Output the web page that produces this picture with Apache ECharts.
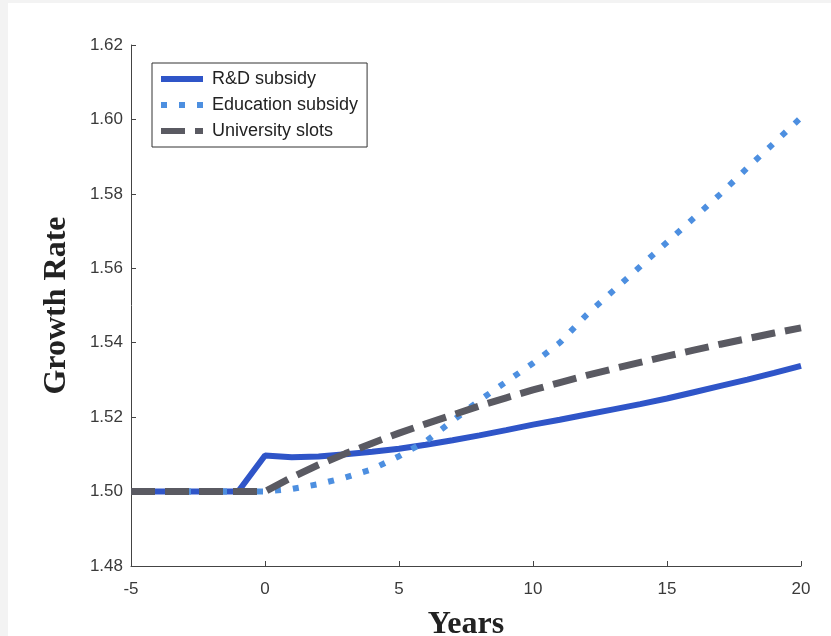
<!DOCTYPE html>
<html>
<head>
<meta charset="utf-8">
<script src="https://cdn.jsdelivr.net/npm/echarts@6/dist/echarts.min.js"></script>
<style>
  html, body { margin: 0; padding: 0; background: #f3f3f3; }
  #chart { position: absolute; left: 8px; top: 3px; width: 823px; height: 633px; background: #ffffff; }
</style>
</head>
<body>
<div id="chart"></div>
<script>
// Years relative to the policy change
const years = [-5, -4, -3, -2, -1, 0, 1, 2, 3, 4, 5, 6, 7, 8, 9, 10, 11, 12, 13, 14, 15, 16, 17, 18, 19, 20];

// Growth rate paths under each policy
const rdSubsidy = [1.500, 1.500, 1.500, 1.500, 1.500, 1.5097, 1.5092, 1.5094, 1.5100, 1.5107, 1.5115,
  1.5126, 1.5138, 1.5151, 1.5165, 1.5180, 1.5193, 1.5207, 1.5221, 1.5235, 1.5250,
  1.5267, 1.5284, 1.5301, 1.5319, 1.5338];
const educationSubsidy = [1.500, 1.500, 1.500, 1.500, 1.500, 1.500, 1.5007, 1.5020, 1.5038, 1.5060, 1.5095,
  1.5135, 1.5190, 1.5245, 1.5295, 1.5345, 1.5400, 1.5475, 1.5540, 1.5605, 1.5670,
  1.5735, 1.5800, 1.5870, 1.5937, 1.6005];
const universitySlots = [1.500, 1.500, 1.500, 1.500, 1.500, 1.500, 1.5038, 1.5072, 1.5102, 1.5130, 1.5157,
  1.5182, 1.5206, 1.5230, 1.5252, 1.5273, 1.5293, 1.5312, 1.5330, 1.5347, 1.5364,
  1.5380, 1.5396, 1.5411, 1.5426, 1.5440];

const seriesNames = ['R&D subsidy', 'Education subsidy', 'University slots'];

const pairs = vals => years.map((y, i) => [y, vals[i]]);

const chart = echarts.init(document.getElementById('chart'), null, { renderer: 'canvas' });

const labelFont = { fontFamily: 'Liberation Sans, Arial, sans-serif', fontSize: 17, color: '#3a3a3a' };
const titleFont = { fontFamily: 'Liberation Serif, Times New Roman, serif', fontSize: 32, fontWeight: 'bold', color: '#222' };

chart.setOption({
  animation: false,
  grid: { left: 123, top: 42, width: 670, height: 521, containLabel: false, outerBoundsMode: 'none' },
  xAxis: {
    type: 'value',
    min: -5, max: 20, interval: 5,
    name: 'Years', nameLocation: 'middle', nameGap: 43,
    nameTextStyle: titleFont,
    axisLine: { show: true, onZero: false, lineStyle: { color: '#444', width: 1 } },
    axisTick: { show: true, inside: true, length: 5, lineStyle: { color: '#444' } },
    axisLabel: Object.assign({ margin: 15 }, labelFont),
    splitLine: { show: false }
  },
  yAxis: {
    type: 'value',
    min: 1.48, max: 1.62, interval: 0.02,
    name: 'Growth Rate', nameLocation: 'middle', nameGap: 58, nameRotate: 90,
    nameTextStyle: titleFont,
    axisLine: { show: true, onZero: false, lineStyle: { color: '#444', width: 1 } },
    axisTick: { show: true, inside: true, length: 5, lineStyle: { color: '#444' } },
    axisLabel: Object.assign({ margin: 8, formatter: v => v.toFixed(2) }, labelFont),
    splitLine: { show: false }
  },
  legend: {
    orient: 'vertical',
    left: 144, top: 60,
    data: seriesNames,
    borderColor: '#333', borderWidth: 1,
    padding: [7, 9, 7, 6],
    itemWidth: 42, itemHeight: 17, itemGap: 8,
    itemStyle: { opacity: 0 },
    lineStyle: { width: 6 },
    textStyle: { fontFamily: 'Liberation Sans, Arial, sans-serif', fontSize: 18, color: '#222', padding: [0, 0, 0, 4] }
  },
  series: [
    {
      name: seriesNames[0], type: 'line', data: pairs(rdSubsidy),
      symbol: 'none', showSymbol: false,
      lineStyle: { color: '#2f55c8', width: 6, type: 'solid' },
      itemStyle: { color: '#2f55c8' }
    },
    {
      name: seriesNames[1], type: 'line', data: pairs(educationSubsidy),
      symbol: 'none', showSymbol: false,
      lineStyle: { color: '#4d8fe0', width: 6, type: [6, 12] },
      itemStyle: { color: '#4d8fe0' }
    },
    {
      name: seriesNames[2], type: 'line', data: pairs(universitySlots),
      symbol: 'none', showSymbol: false,
      lineStyle: { color: '#5a5a62', width: 7, type: [24, 10] },
      itemStyle: { color: '#5a5a62' }
    }
  ]
});
</script>
</body>
</html>
